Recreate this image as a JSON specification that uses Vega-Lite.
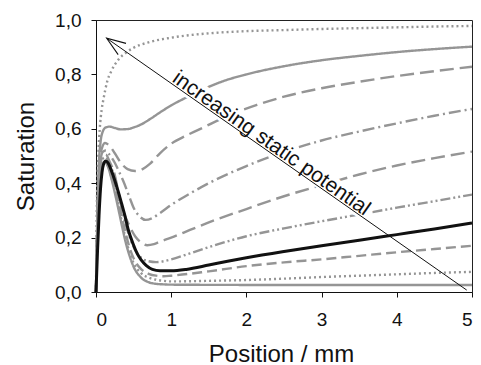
{
"$schema": "https://vega.github.io/schema/vega-lite/v6.json",
"width": 376, "height": 272,
"autosize": {"type": "none"},
"padding": {"left": 96, "top": 20, "right": 9, "bottom": 73},
"config": {
  "view": {"stroke": "#222", "strokeWidth": 1},
  "font": "Liberation Sans",
  "axis": {"grid": false, "domainColor": "#111", "tickColor": "#111", "labelColor": "#111", "titleColor": "#111", "tickSize": 5, "labelFontSize": 19, "titleFontSize": 24, "titleFontWeight": "normal", "labelFont": "Liberation Sans", "titleFont": "Liberation Sans"}
},
"datasets": {
  "curves": [
    {"curve":"c01","x":0,"y":0},{"curve":"c01","x":0.01,"y":0.3},{"curve":"c01","x":0.02,"y":0.42},{"curve":"c01","x":0.035,"y":0.53},{"curve":"c01","x":0.05,"y":0.6},{"curve":"c01","x":0.075,"y":0.67},{"curve":"c01","x":0.1,"y":0.71},{"curve":"c01","x":0.15,"y":0.775},{"curve":"c01","x":0.2,"y":0.81},{"curve":"c01","x":0.3,"y":0.855},{"curve":"c01","x":0.4,"y":0.88},{"curve":"c01","x":0.5,"y":0.898},{"curve":"c01","x":0.7,"y":0.918},{"curve":"c01","x":1.0,"y":0.935},{"curve":"c01","x":1.5,"y":0.951},{"curve":"c01","x":2.0,"y":0.959},{"curve":"c01","x":2.5,"y":0.963},{"curve":"c01","x":3.0,"y":0.967},{"curve":"c01","x":3.5,"y":0.97},{"curve":"c01","x":4.0,"y":0.973},{"curve":"c01","x":4.5,"y":0.976},{"curve":"c01","x":5,"y":0.978},

    {"curve":"c02","x":0,"y":0},{"curve":"c02","x":0.02,"y":0.3},{"curve":"c02","x":0.04,"y":0.48},{"curve":"c02","x":0.06,"y":0.55},{"curve":"c02","x":0.09,"y":0.59},{"curve":"c02","x":0.13,"y":0.605},{"curve":"c02","x":0.18,"y":0.608},{"curve":"c02","x":0.25,"y":0.603},{"curve":"c02","x":0.33,"y":0.598},{"curve":"c02","x":0.42,"y":0.599},{"curve":"c02","x":0.5,"y":0.605},{"curve":"c02","x":0.6,"y":0.616},{"curve":"c02","x":0.72,"y":0.636},{"curve":"c02","x":0.85,"y":0.66},{"curve":"c02","x":1.0,"y":0.686},{"curve":"c02","x":1.2,"y":0.715},{"curve":"c02","x":1.4,"y":0.742},{"curve":"c02","x":1.7,"y":0.776},{"curve":"c02","x":2.0,"y":0.8},{"curve":"c02","x":2.5,"y":0.83},{"curve":"c02","x":3.0,"y":0.852},{"curve":"c02","x":3.5,"y":0.868},{"curve":"c02","x":4.0,"y":0.882},{"curve":"c02","x":4.5,"y":0.893},{"curve":"c02","x":5,"y":0.902},

    {"curve":"c03","x":0,"y":0},{"curve":"c03","x":0.02,"y":0.3},{"curve":"c03","x":0.05,"y":0.48},{"curve":"c03","x":0.08,"y":0.53},{"curve":"c03","x":0.12,"y":0.548},{"curve":"c03","x":0.17,"y":0.54},{"curve":"c03","x":0.25,"y":0.51},{"curve":"c03","x":0.33,"y":0.475},{"curve":"c03","x":0.42,"y":0.452},{"curve":"c03","x":0.52,"y":0.445},{"curve":"c03","x":0.62,"y":0.452},{"curve":"c03","x":0.72,"y":0.472},{"curve":"c03","x":0.85,"y":0.51},{"curve":"c03","x":1.0,"y":0.545},{"curve":"c03","x":1.2,"y":0.575},{"curve":"c03","x":1.36,"y":0.596},{"curve":"c03","x":1.63,"y":0.632},{"curve":"c03","x":1.9,"y":0.664},{"curve":"c03","x":2.14,"y":0.688},{"curve":"c03","x":2.5,"y":0.718},{"curve":"c03","x":3.0,"y":0.749},{"curve":"c03","x":3.5,"y":0.773},{"curve":"c03","x":4.0,"y":0.794},{"curve":"c03","x":4.5,"y":0.812},{"curve":"c03","x":5,"y":0.828},

    {"curve":"c04","x":0,"y":0},{"curve":"c04","x":0.02,"y":0.28},{"curve":"c04","x":0.05,"y":0.46},{"curve":"c04","x":0.09,"y":0.515},{"curve":"c04","x":0.13,"y":0.52},{"curve":"c04","x":0.18,"y":0.505},{"curve":"c04","x":0.25,"y":0.475},{"curve":"c04","x":0.31,"y":0.44},{"curve":"c04","x":0.36,"y":0.41},{"curve":"c04","x":0.45,"y":0.345},{"curve":"c04","x":0.5,"y":0.31},{"curve":"c04","x":0.58,"y":0.278},{"curve":"c04","x":0.66,"y":0.265},{"curve":"c04","x":0.75,"y":0.272},{"curve":"c04","x":0.85,"y":0.29},{"curve":"c04","x":1.0,"y":0.32},{"curve":"c04","x":1.25,"y":0.362},{"curve":"c04","x":1.5,"y":0.4},{"curve":"c04","x":2.0,"y":0.463},{"curve":"c04","x":2.5,"y":0.515},{"curve":"c04","x":3.0,"y":0.557},{"curve":"c04","x":3.5,"y":0.59},{"curve":"c04","x":4.0,"y":0.62},{"curve":"c04","x":4.5,"y":0.648},{"curve":"c04","x":5,"y":0.673},

    {"curve":"c05","x":0,"y":0},{"curve":"c05","x":0.02,"y":0.27},{"curve":"c05","x":0.05,"y":0.45},{"curve":"c05","x":0.09,"y":0.5},{"curve":"c05","x":0.13,"y":0.505},{"curve":"c05","x":0.18,"y":0.48},{"curve":"c05","x":0.25,"y":0.43},{"curve":"c05","x":0.3,"y":0.365},{"curve":"c05","x":0.36,"y":0.3},{"curve":"c05","x":0.45,"y":0.24},{"curve":"c05","x":0.52,"y":0.205},{"curve":"c05","x":0.6,"y":0.182},{"curve":"c05","x":0.68,"y":0.172},{"curve":"c05","x":0.77,"y":0.176},{"curve":"c05","x":0.85,"y":0.185},{"curve":"c05","x":1.0,"y":0.2},{"curve":"c05","x":1.25,"y":0.228},{"curve":"c05","x":1.5,"y":0.256},{"curve":"c05","x":2.0,"y":0.305},{"curve":"c05","x":2.5,"y":0.352},{"curve":"c05","x":3.0,"y":0.393},{"curve":"c05","x":3.5,"y":0.432},{"curve":"c05","x":4.0,"y":0.465},{"curve":"c05","x":4.5,"y":0.492},{"curve":"c05","x":5,"y":0.516},

    {"curve":"c06","x":0,"y":0},{"curve":"c06","x":0.02,"y":0.26},{"curve":"c06","x":0.05,"y":0.44},{"curve":"c06","x":0.09,"y":0.49},{"curve":"c06","x":0.13,"y":0.495},{"curve":"c06","x":0.18,"y":0.47},{"curve":"c06","x":0.25,"y":0.42},{"curve":"c06","x":0.3,"y":0.36},{"curve":"c06","x":0.36,"y":0.285},{"curve":"c06","x":0.45,"y":0.2},{"curve":"c06","x":0.52,"y":0.155},{"curve":"c06","x":0.6,"y":0.126},{"curve":"c06","x":0.7,"y":0.113},{"curve":"c06","x":0.8,"y":0.11},{"curve":"c06","x":0.9,"y":0.113},{"curve":"c06","x":1.0,"y":0.12},{"curve":"c06","x":1.25,"y":0.142},{"curve":"c06","x":1.5,"y":0.165},{"curve":"c06","x":2.0,"y":0.205},{"curve":"c06","x":2.5,"y":0.234},{"curve":"c06","x":3.0,"y":0.26},{"curve":"c06","x":3.5,"y":0.285},{"curve":"c06","x":4.0,"y":0.31},{"curve":"c06","x":4.5,"y":0.334},{"curve":"c06","x":5,"y":0.358},

    {"curve":"c07","x":0,"y":0},{"curve":"c07","x":0.02,"y":0.15},{"curve":"c07","x":0.04,"y":0.28},{"curve":"c07","x":0.06,"y":0.38},{"curve":"c07","x":0.08,"y":0.44},{"curve":"c07","x":0.1,"y":0.47},{"curve":"c07","x":0.13,"y":0.482},{"curve":"c07","x":0.16,"y":0.475},{"curve":"c07","x":0.2,"y":0.45},{"curve":"c07","x":0.25,"y":0.41},{"curve":"c07","x":0.3,"y":0.365},{"curve":"c07","x":0.34,"y":0.326},{"curve":"c07","x":0.38,"y":0.285},{"curve":"c07","x":0.43,"y":0.228},{"curve":"c07","x":0.49,"y":0.179},{"curve":"c07","x":0.55,"y":0.14},{"curve":"c07","x":0.6,"y":0.118},{"curve":"c07","x":0.67,"y":0.097},{"curve":"c07","x":0.75,"y":0.083},{"curve":"c07","x":0.85,"y":0.078},{"curve":"c07","x":1.0,"y":0.078},{"curve":"c07","x":1.2,"y":0.083},{"curve":"c07","x":1.5,"y":0.099},{"curve":"c07","x":1.75,"y":0.113},{"curve":"c07","x":2.0,"y":0.126},{"curve":"c07","x":2.5,"y":0.149},{"curve":"c07","x":3.0,"y":0.17},{"curve":"c07","x":3.5,"y":0.19},{"curve":"c07","x":4.0,"y":0.211},{"curve":"c07","x":4.5,"y":0.232},{"curve":"c07","x":5,"y":0.254},

    {"curve":"c08","x":0,"y":0},{"curve":"c08","x":0.02,"y":0.25},{"curve":"c08","x":0.05,"y":0.43},{"curve":"c08","x":0.09,"y":0.475},{"curve":"c08","x":0.12,"y":0.48},{"curve":"c08","x":0.16,"y":0.465},{"curve":"c08","x":0.2,"y":0.435},{"curve":"c08","x":0.25,"y":0.385},{"curve":"c08","x":0.3,"y":0.33},{"curve":"c08","x":0.35,"y":0.27},{"curve":"c08","x":0.4,"y":0.21},{"curve":"c08","x":0.45,"y":0.16},{"curve":"c08","x":0.5,"y":0.124},{"curve":"c08","x":0.6,"y":0.084},{"curve":"c08","x":0.7,"y":0.067},{"curve":"c08","x":0.8,"y":0.06},{"curve":"c08","x":0.9,"y":0.058},{"curve":"c08","x":1.0,"y":0.06},{"curve":"c08","x":1.5,"y":0.076},{"curve":"c08","x":2.0,"y":0.095},{"curve":"c08","x":2.5,"y":0.109},{"curve":"c08","x":3.0,"y":0.12},{"curve":"c08","x":3.5,"y":0.133},{"curve":"c08","x":4.0,"y":0.146},{"curve":"c08","x":4.5,"y":0.158},{"curve":"c08","x":5,"y":0.17},

    {"curve":"c09","x":0,"y":0},{"curve":"c09","x":0.02,"y":0.25},{"curve":"c09","x":0.05,"y":0.43},{"curve":"c09","x":0.09,"y":0.475},{"curve":"c09","x":0.12,"y":0.478},{"curve":"c09","x":0.16,"y":0.462},{"curve":"c09","x":0.2,"y":0.428},{"curve":"c09","x":0.25,"y":0.375},{"curve":"c09","x":0.3,"y":0.315},{"curve":"c09","x":0.35,"y":0.25},{"curve":"c09","x":0.4,"y":0.19},{"curve":"c09","x":0.45,"y":0.143},{"curve":"c09","x":0.5,"y":0.107},{"curve":"c09","x":0.6,"y":0.069},{"curve":"c09","x":0.7,"y":0.053},{"curve":"c09","x":0.8,"y":0.045},{"curve":"c09","x":0.9,"y":0.041},{"curve":"c09","x":1.0,"y":0.039},{"curve":"c09","x":1.5,"y":0.041},{"curve":"c09","x":2.0,"y":0.044},{"curve":"c09","x":2.5,"y":0.049},{"curve":"c09","x":3.0,"y":0.055},{"curve":"c09","x":3.5,"y":0.06},{"curve":"c09","x":4.0,"y":0.065},{"curve":"c09","x":4.5,"y":0.07},{"curve":"c09","x":5,"y":0.074},

    {"curve":"c10","x":0,"y":0},{"curve":"c10","x":0.02,"y":0.25},{"curve":"c10","x":0.05,"y":0.43},{"curve":"c10","x":0.09,"y":0.472},{"curve":"c10","x":0.12,"y":0.476},{"curve":"c10","x":0.16,"y":0.46},{"curve":"c10","x":0.2,"y":0.422},{"curve":"c10","x":0.25,"y":0.365},{"curve":"c10","x":0.3,"y":0.302},{"curve":"c10","x":0.35,"y":0.237},{"curve":"c10","x":0.4,"y":0.177},{"curve":"c10","x":0.45,"y":0.13},{"curve":"c10","x":0.5,"y":0.093},{"curve":"c10","x":0.6,"y":0.053},{"curve":"c10","x":0.7,"y":0.036},{"curve":"c10","x":0.8,"y":0.03},{"curve":"c10","x":0.9,"y":0.028},{"curve":"c10","x":1.0,"y":0.027},{"curve":"c10","x":2.0,"y":0.026},{"curve":"c10","x":3.0,"y":0.026},{"curve":"c10","x":4.0,"y":0.026},{"curve":"c10","x":5,"y":0.026}
  ],
  "arrow": [{"x": 0.142, "y": 0.933, "x2": 4.93, "y2": 0.007}],
  "label": [{"x": 2.27, "y": 0.521, "text": "increasing static potential"}]
},
"layer": [
  {
    "data": {"name": "curves"},
    "transform": [{"filter": "datum.curve !== 'c07'"}],
    "mark": {"type": "line", "interpolate": "monotone", "color": "#959595", "strokeWidth": 2.4},
    "encoding": {
      "x": {"field": "x", "type": "quantitative", "scale": {"domain": [0, 5], "nice": false},
        "axis": {"values": [0,1,2,3,4,5], "format": "d", "title": "Position / mm", "labelPadding": 13, "titleX": 185, "titleY": 69, "titleBaseline": "alphabetic", "titleAlign": "center"}},
      "y": {"field": "y", "type": "quantitative", "scale": {"domain": [0, 1], "nice": false},
        "axis": {"values": [0,0.2,0.4,0.6,0.8,1.0], "labelExpr": "replace(format(datum.value,'.1f'),'.',',')", "title": "Saturation", "labelPadding": 10, "titleX": -63, "titleY": 136, "titleAngle": -90, "titleBaseline": "alphabetic", "titleAlign": "center"}},
      "strokeDash": {"field": "curve", "type": "nominal", "legend": null,
        "scale": {"domain": ["c01","c02","c03","c04","c05","c06","c08","c09","c10"],
                  "range": [[2,3],[1,0],[14,6],[12,4,2,4],[14,6],[10,3,2,3,2,3],[10,5],[2,3],[1,0]]}}
    }
  },
  {
    "data": {"name": "curves"},
    "transform": [{"filter": "datum.curve === 'c07'"}],
    "mark": {"type": "line", "interpolate": "monotone", "color": "#111111", "strokeWidth": 3},
    "encoding": {
      "x": {"field": "x", "type": "quantitative"},
      "y": {"field": "y", "type": "quantitative"}
    }
  },
  {
    "data": {"name": "label"},
    "mark": {"type": "text", "angle": 35, "align": "center", "baseline": "alphabetic", "dy": -2, "fontSize": 21, "font": "Liberation Sans", "stroke": "white", "strokeWidth": 10, "strokeJoin": "round", "fill": "white"},
    "encoding": {
      "x": {"field": "x", "type": "quantitative"},
      "y": {"field": "y", "type": "quantitative"},
      "text": {"field": "text"}
    }
  },
  {
    "data": {"name": "arrow"},
    "mark": {"type": "rule", "color": "#111111", "strokeWidth": 1},
    "encoding": {
      "x": {"field": "x", "type": "quantitative"},
      "y": {"field": "y", "type": "quantitative"},
      "x2": {"field": "x2"},
      "y2": {"field": "y2"}
    }
  },
  {
    "data": {"name": "arrow"},
    "mark": {"type": "point", "shape": "M-0.684,1.88L0,0L0.684,1.88", "size": 400, "angle": 305, "filled": false, "color": "#111111", "strokeWidth": 1.1, "opacity": 1},
    "encoding": {
      "x": {"field": "x", "type": "quantitative"},
      "y": {"field": "y", "type": "quantitative"}
    }
  },
  {
    "data": {"name": "label"},
    "mark": {"type": "text", "angle": 35, "align": "center", "baseline": "alphabetic", "dy": -2, "fontSize": 21, "font": "Liberation Sans", "color": "#111111"},
    "encoding": {
      "x": {"field": "x", "type": "quantitative"},
      "y": {"field": "y", "type": "quantitative"},
      "text": {"field": "text"}
    }
  }
]
}
